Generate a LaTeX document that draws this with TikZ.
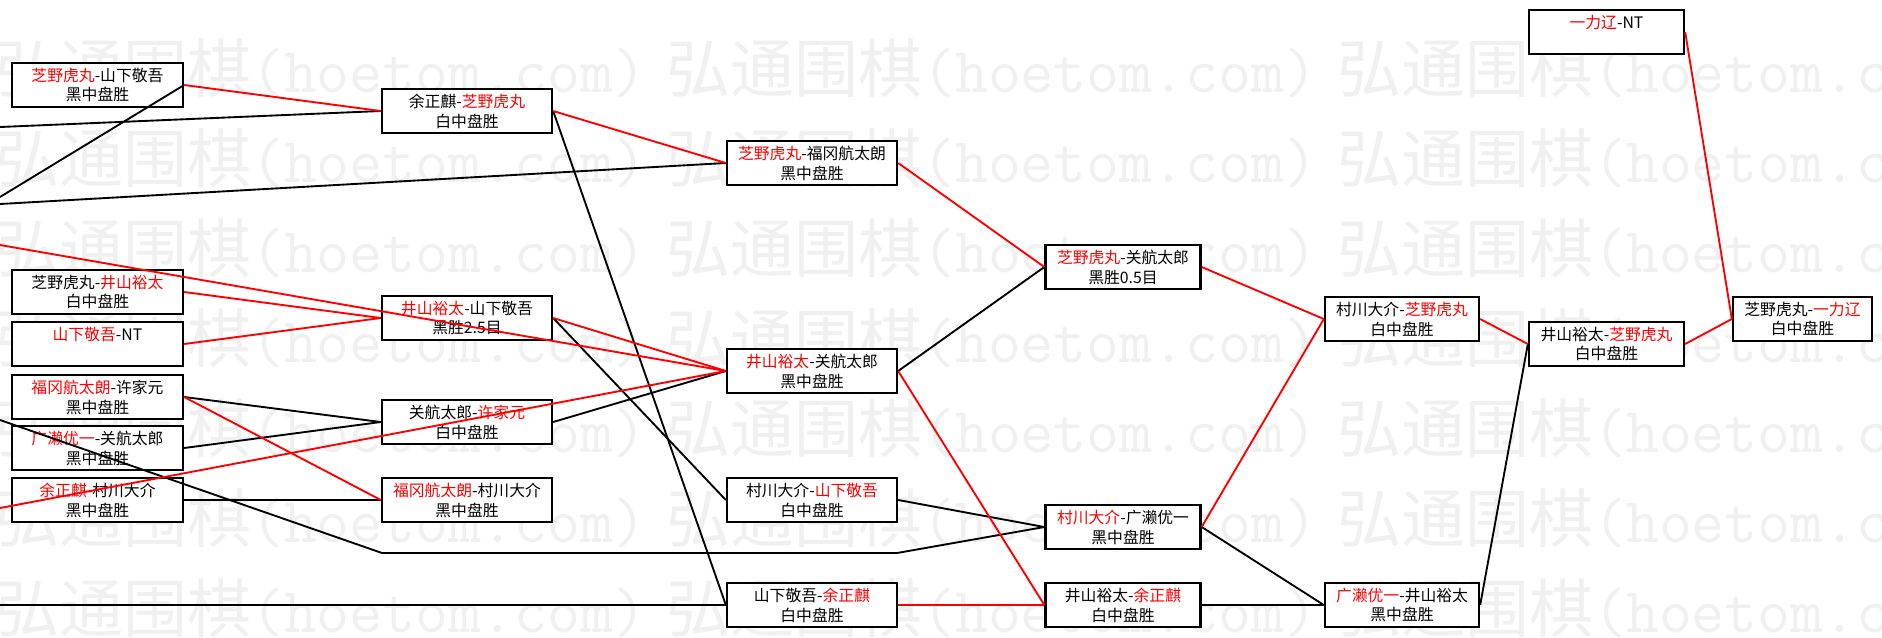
\documentclass[tikz,border=0pt]{standalone}
\usepackage{fontspec}
\setmainfont{Noto Sans CJK SC}
\usepackage{tikz}

\newcommand{\winner}[1]{\textcolor{red}{#1}}
\newcommand{\gamefont}{\fontsize{13.5pt}{17pt}\selectfont}
\newcommand{\wmfont}{\fontsize{54.6pt}{60pt}\selectfont}
\newcommand{\hoetom}{\makebox[20.13cm][l]{弘通围棋\texttt{(hoetom.com)}}}

\begin{document}
\begin{tikzpicture}[
    x=0.03cm, y=-0.03cm,
    % Styles
    game/.style={
        rectangle,
        draw=black,
        fill=white,
        line width=2pt,
        minimum width=#1,
        minimum height=1.32cm,
        inner sep=0pt,
        align=center,
        font=\gamefont
    },
    game/.default=5.1cm,
    win/.style={
        red,
        line width=1.6pt
    },
    lose/.style={
        black,
        line width=1.6pt
    },
    wmark/.style={
        anchor=base west,
        inner sep=0pt,
        text=black!6,
        font=\wmfont
    }
]

\useasboundingbox (0,0) rectangle (1882,637);
\clip (0,0) rectangle (1882,637);
\fill[white] (0,0) rectangle (1882,637);

% Watermark
\node[wmark] (wm1) at (-5, 92) {\hoetom\hoetom\hoetom};
\node[wmark] (wm2) at (-5, 182) {\hoetom\hoetom\hoetom};
\node[wmark] (wm3) at (-5, 272) {\hoetom\hoetom\hoetom};
\node[wmark] (wm4) at (-5, 362) {\hoetom\hoetom\hoetom};
\node[wmark] (wm5) at (-5, 452) {\hoetom\hoetom\hoetom};
\node[wmark] (wm6) at (-5, 542) {\hoetom\hoetom\hoetom};
\node[wmark] (wm7) at (-5, 632) {\hoetom\hoetom\hoetom};

% Games - first column
\node[game=5.13cm] (shibanoYamashita) at (97.5, 85) {\winner{芝野虎丸}-山下敬吾\\黑中盘胜};
\node[game=5.13cm] (shibanoIyama) at (97.5, 292) {芝野虎丸-\winner{井山裕太}\\白中盘胜};
\node[game=5.13cm] (yamashitaNT) at (97.5, 344) {\winner{山下敬吾}-NT\\\mbox{}};
\node[game=5.13cm] (fukuokaKyo) at (97.5, 397) {\winner{福冈航太朗}-许家元\\黑中盘胜};
\node[game=5.13cm] (hiroseSeki) at (97.5, 448) {\winner{广濑优一}-关航太郎\\黑中盘胜};
\node[game=5.13cm] (yoMurakawa) at (97.5, 500) {\winner{余正麒}-村川大介\\黑中盘胜};

% Games - second column
\node[game] (yoShibano) at (467, 111) {余正麒-\winner{芝野虎丸}\\白中盘胜};
\node[game] (iyamaYamashita) at (467, 318) {\winner{井山裕太}-山下敬吾\\黑胜2.5目};
\node[game] (sekiKyo) at (467, 422) {关航太郎-\winner{许家元}\\白中盘胜};
\node[game] (fukuokaMurakawa) at (467, 500) {\winner{福冈航太朗}-村川大介\\黑中盘胜};

% Games - third column
\node[game] (shibanoFukuoka) at (812, 163) {\winner{芝野虎丸}-福冈航太朗\\黑中盘胜};
\node[game] (iyamaSeki) at (812, 371) {\winner{井山裕太}-关航太郎\\黑中盘胜};
\node[game] (murakawaYamashita) at (812, 500) {村川大介-\winner{山下敬吾}\\白中盘胜};
\node[game] (yamashitaYo) at (812, 605) {山下敬吾-\winner{余正麒}\\白中盘胜};

% Games - fourth column
\node[game=4.65cm] (shibanoSeki) at (1123, 267) {\winner{芝野虎丸}-关航太郎\\黑胜0.5目};
\node[game=4.65cm] (murakawaHirose) at (1123, 527) {\winner{村川大介}-广濑优一\\黑中盘胜};
\node[game=4.65cm] (iyamaYo) at (1123, 605) {井山裕太-\winner{余正麒}\\白中盘胜};

% Games - fifth column
\node[game=4.62cm] (murakawaShibano) at (1402, 319) {村川大介-\winner{芝野虎丸}\\白中盘胜};
\node[game=4.62cm] (hiroseIyama) at (1402, 605) {\winner{广濑优一}-井山裕太\\黑中盘胜};

% Games - last columns
\node[game=4.65cm] (ichirikiNT) at (1606.5, 32) {\winner{一力辽}-NT\\\mbox{}};
\node[game=4.65cm] (iyamaShibano) at (1606.5, 344) {井山裕太-\winner{芝野虎丸}\\白中盘胜};
\node[game=4.17cm] (shibanoIchiriki) at (1802.5, 319) {芝野虎丸-\winner{一力辽}\\白中盘胜};

% Lines coming in from the left edge
\coordinate (inA) at (0, 127);
\coordinate (inB) at (0, 197);
\coordinate (inC) at (0, 204);
\coordinate (inD) at (0, 245);
\coordinate (inE) at (0, 420);
\coordinate (inF) at (0, 508);
\coordinate (inG) at (0, 605);
\coordinate (bendA) at (382, 553);
\coordinate (bendB) at (897, 553);

% Losers
\draw[lose] (inA) -- (yoShibano.west);
\draw[lose] (inB) -- (shibanoYamashita.east);
\draw[lose] (inC) -- (shibanoFukuoka.west);
\draw[lose] (inE) -- (bendA) -- (bendB) -- (murakawaHirose.west);
\draw[lose] (inG) -- (yamashitaYo.west);
\draw[lose] (yoShibano.east) -- (yamashitaYo.west);
\draw[lose] (iyamaYamashita.east) -- (murakawaYamashita.west);
\draw[lose] (fukuokaKyo.east) -- (sekiKyo.west);
\draw[lose] (hiroseSeki.east) -- (sekiKyo.west);
\draw[lose] (yoMurakawa.east) -- (fukuokaMurakawa.west);
\draw[lose] (sekiKyo.east) -- (iyamaSeki.west);
\draw[lose] (iyamaSeki.east) -- (shibanoSeki.west);
\draw[lose] (murakawaYamashita.east) -- (murakawaHirose.west);
\draw[lose] (murakawaHirose.east) -- (hiroseIyama.west);
\draw[lose] (iyamaYo.east) -- (hiroseIyama.west);
\draw[lose] (hiroseIyama.east) -- (iyamaShibano.west);

% Winners
\draw[win] (shibanoYamashita.east) -- (yoShibano.west);
\draw[win] (yoShibano.east) -- (shibanoFukuoka.west);
\draw[win] (shibanoFukuoka.east) -- (shibanoSeki.west);
\draw[win] (shibanoSeki.east) -- (murakawaShibano.west);
\draw[win] (murakawaShibano.east) -- (iyamaShibano.west);
\draw[win] (iyamaShibano.east) -- (shibanoIchiriki.west);
\draw[win] (ichirikiNT.east) -- (shibanoIchiriki.west);
\draw[win] (shibanoIyama.east) -- (iyamaYamashita.west);
\draw[win] (yamashitaNT.east) -- (iyamaYamashita.west);
\draw[win] (iyamaYamashita.east) -- (iyamaSeki.west);
\draw[win] (inD) -- (iyamaSeki.west);
\draw[win] (inF) -- (iyamaSeki.west);
\draw[win] (fukuokaKyo.east) -- (fukuokaMurakawa.west);
\draw[win] (iyamaSeki.east) -- (iyamaYo.west);
\draw[win] (yamashitaYo.east) -- (iyamaYo.west);
\draw[win] (murakawaHirose.east) -- (murakawaShibano.west);

\end{tikzpicture}
\end{document}
